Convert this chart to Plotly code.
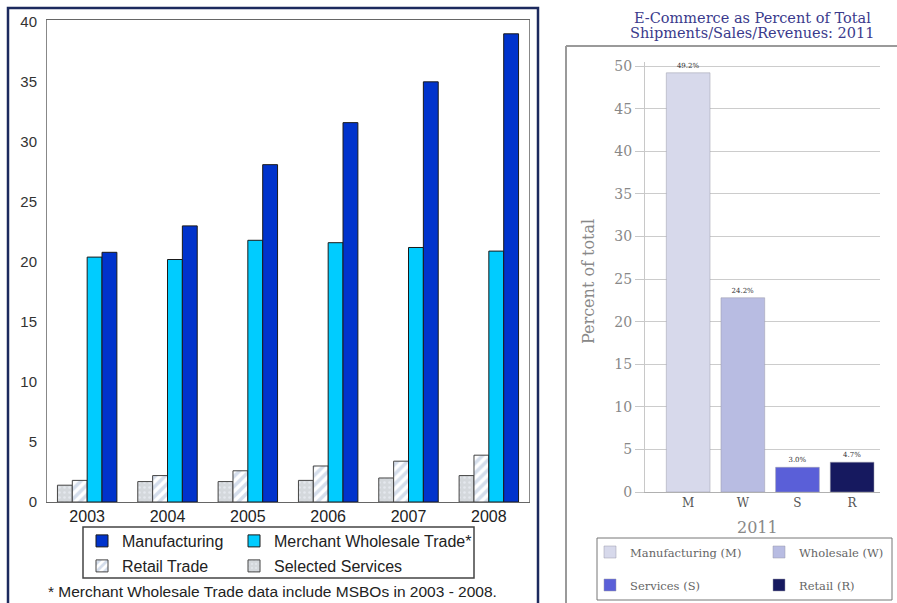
import plotly.graph_objects as go

# ---------------- data ----------------
years = ["2003", "2004", "2005", "2006", "2007", "2008"]
manufacturing = [20.8, 23.0, 28.1, 31.6, 35.0, 39.0]
wholesale = [20.4, 20.2, 21.8, 21.6, 21.2, 20.9]
retail = [1.8, 2.2, 2.6, 3.0, 3.4, 3.9]
services = [1.4, 1.7, 1.7, 1.8, 2.0, 2.2]

sectors_2011 = ["M", "W", "S", "R"]
sector_names_2011 = ["Manufacturing (M)", "Wholesale (W)", "Services (S)", "Retail (R)"]
share_2011 = [49.2, 22.8, 2.9, 3.5]
share_labels_2011 = ["49.2%", "24.2%", "3.0%", "4.7%"]

W, H = 897, 603
def px(x):
    return x / W
def py(y):
    return 1 - y / H

fig = go.Figure()

# ---------------- left chart ----------------
line = dict(color="#1a1a1a", width=1)
fig.add_trace(go.Bar(
    x=years, y=services, name="Selected Services",
    marker=dict(color="#d4d8dc", line=dict(color="#444444", width=1),
                pattern=dict(shape=".", fgcolor="#f4f8ff", bgcolor="#d4d8dc", size=5, solidity=0.2)),
    xaxis="x", yaxis="y", legend="legend4"))
fig.add_trace(go.Bar(
    x=years, y=retail, name="Retail Trade",
    marker=dict(color="#ffffff", line=dict(color="#444444", width=1),
                pattern=dict(shape="/", fgcolor="#a9bcd8", bgcolor="#ffffff", size=7, solidity=0.5)),
    xaxis="x", yaxis="y", legend="legend3"))
fig.add_trace(go.Bar(
    x=years, y=wholesale, name="Merchant Wholesale Trade*",
    marker=dict(color="#00ccff", line=line),
    xaxis="x", yaxis="y", legend="legend2"))
fig.add_trace(go.Bar(
    x=years, y=manufacturing, name="Manufacturing",
    marker=dict(color="#0033cc", line=line),
    xaxis="x", yaxis="y", legend="legend"))

# ---------------- right chart ----------------
right_colors = ["#d7d9eb", "#b8bce2", "#5a5fd8", "#16195f"]
right_legends = ["legend5", "legend6", "legend7", "legend8"]
for i in range(4):
    fig.add_trace(go.Bar(
        x=[sectors_2011[i]], y=[share_2011[i]], name=sector_names_2011[i],
        marker=dict(color=right_colors[i], line=dict(color="#9a9aa8", width=0.5)),
        width=0.8, offsetgroup="r2011",
        text=[share_labels_2011[i]], textposition="outside",
        textfont=dict(family="DejaVu Serif", size=7, color="#333333"),
        cliponaxis=False,
        xaxis="x2", yaxis="y2", legend=right_legends[i]))

SANS = "Liberation Sans, Arial"
SERIF = "DejaVu Serif, Liberation Serif"
legend_font = dict(family=SANS, size=16, color="#222222")
serif_legend_font = dict(family=SERIF, size=11.5, color="#666666")

def leg(x, y, font):
    return dict(orientation="h", x=px(x), y=py(y), xanchor="left", yanchor="middle",
                font=font, bgcolor="rgba(0,0,0,0)", itemclick=False, itemdoubleclick=False)

fig.update_layout(
    width=W, height=H,
    margin=dict(l=0, r=0, t=0, b=0, autoexpand=False),
    paper_bgcolor="white", plot_bgcolor="white",
    barmode="group", bargap=0.26, bargroupgap=0,
    showlegend=True,
    xaxis=dict(domain=[px(47), px(529)], anchor="y", type="category", automargin=False,
               showline=True, linecolor="#666666", linewidth=1, mirror=True,
               ticks="", showgrid=False,
               tickfont=dict(family=SANS, size=16, color="#222222")),
    yaxis=dict(domain=[py(502), py(20)], anchor="x", range=[0, 40.15], automargin=False,
               dtick=5, showgrid=False, zeroline=False,
               showline=True, linecolor="#888888", linewidth=1, mirror=True,
               ticks="outside", ticklen=6, tickcolor="white",
               tickfont=dict(family=SANS, size=15, color="#333333")),
    xaxis2=dict(domain=[px(645), px(880)], anchor="y2", type="category", automargin=False,
                range=[-0.79, 3.51],
                showline=True, linecolor="#b0b0b0", linewidth=1,
                ticks="", showgrid=False,
                tickfont=dict(family=SERIF, size=12, color="#555555")),
    yaxis2=dict(domain=[py(492), py(62)], anchor="x2", range=[0, 50.47], automargin=False,
                dtick=5, showgrid=True, gridcolor="#cccccc", gridwidth=1,
                zeroline=False, showline=True, linecolor="#c8c8c8", linewidth=1,
                ticks="outside", ticklen=9, tickcolor="#c8c8c8",
                tickfont=dict(family=SERIF, size=14, color="#888888")),
    legend=leg(82, 541, legend_font),
    legend2=leg(234, 541, legend_font),
    legend3=leg(82, 566, legend_font),
    legend4=leg(234, 566, legend_font),
    legend5=leg(590, 552, serif_legend_font),
    legend6=leg(759, 552, serif_legend_font),
    legend7=leg(590, 585, serif_legend_font),
    legend8=leg(759, 585, serif_legend_font),
    shapes=[
        # left outer frame
        dict(type="rect", xref="paper", yref="paper", x0=px(8), x1=px(538), y0=py(612), y1=py(8),
             line=dict(color="#1c2a5e", width=2.5)),
        # left legend box
        dict(type="rect", xref="paper", yref="paper", x0=px(83), x1=px(474), y0=py(578), y1=py(527),
             line=dict(color="#444444", width=1.5)),
        # right panel frame
        dict(type="line", xref="paper", yref="paper", x0=px(566), x1=px(897), y0=py(46), y1=py(46),
             line=dict(color="#9a9a9a", width=2)),
        dict(type="line", xref="paper", yref="paper", x0=px(566), x1=px(566), y0=py(46), y1=py(612),
             line=dict(color="#9a9a9a", width=2)),
        # right legend box
        dict(type="rect", xref="paper", yref="paper", x0=px(597), x1=px(892), y0=py(600), y1=py(538),
             line=dict(color="#777777", width=1)),
    ],
    annotations=[
        dict(text="* Merchant Wholesale Trade data include MSBOs in 2003 - 2008.",
             xref="paper", yref="paper", x=px(272), y=py(591), xanchor="center", yanchor="middle",
             showarrow=False, font=dict(family=SANS, size=15.5, color="#222222")),
        dict(text="E-Commerce as Percent of Total",
             xref="paper", yref="paper", x=px(752), y=py(18), xanchor="center", yanchor="middle",
             showarrow=False, font=dict(family=SERIF, size=14.5, color="#3a3a8c")),
        dict(text="Shipments/Sales/Revenues: 2011",
             xref="paper", yref="paper", x=px(752), y=py(33), xanchor="center", yanchor="middle",
             showarrow=False, font=dict(family=SERIF, size=14.5, color="#3a3a8c")),
        dict(text="Percent of total", textangle=-90,
             xref="paper", yref="paper", x=px(588), y=py(282), xanchor="center", yanchor="middle",
             showarrow=False, font=dict(family=SERIF, size=16, color="#888888")),
        dict(text="2011",
             xref="paper", yref="paper", x=px(757), y=py(527), xanchor="center", yanchor="middle",
             showarrow=False, font=dict(family=SERIF, size=16, color="#888888")),
    ],
)

fig.write_html("out.html")
